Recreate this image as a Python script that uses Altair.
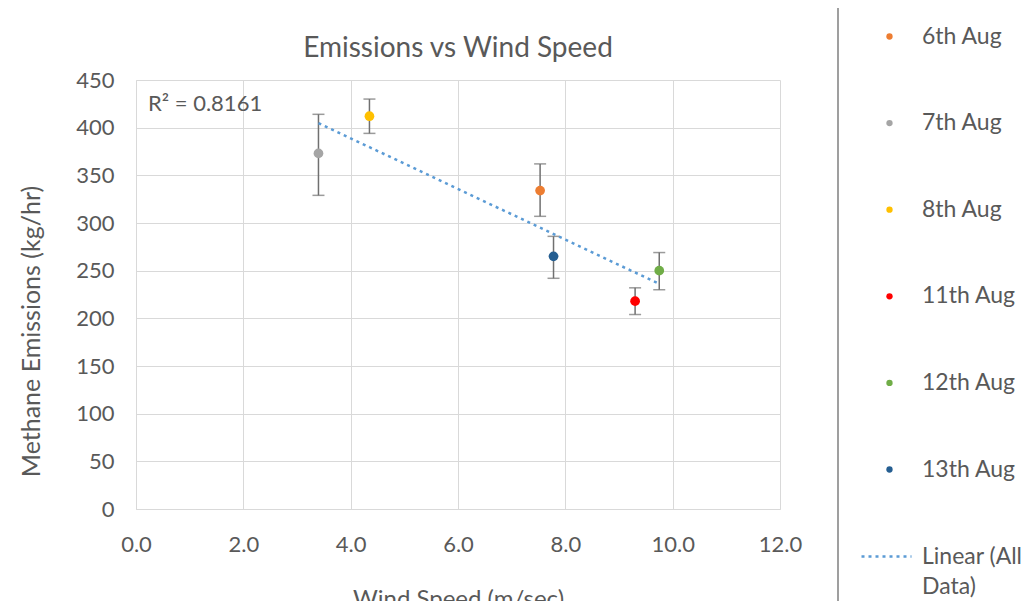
import altair as alt
import pandas as pd

# values
dates = ["6th Aug", "7th Aug", "8th Aug", "11th Aug", "12th Aug", "13th Aug"]
wind_speed = [7.53, 3.40, 4.35, 9.30, 9.75, 7.78]
emissions = [334, 373, 412, 218, 250, 265]
err_low = [307, 329, 394, 204, 230, 242]
err_high = [362, 414, 430, 232, 269, 286]
colors = ["#ED7D31", "#A5A5A5", "#FFC000", "#FF0000", "#70AD47", "#255E91"]
r2_label = "R² = 0.8161"
trend_name = "Linear (All Data)"

df = pd.DataFrame({
    "date": dates,
    "wind": wind_speed,
    "emissions": emissions,
    "low": err_low,
    "high": err_high,
})

txt = "#595959"
grid = "#D9D9D9"
y_title = "Methane Emissions (kg/hr)"

x_enc = alt.X("wind:Q", title="Wind Speed (m/sec)",
              scale=alt.Scale(domain=[0, 12], nice=False),
              axis=alt.Axis(values=[0, 2, 4, 6, 8, 10, 12], format=".1f",
                            labelPadding=25, titlePadding=32))
y_enc = alt.Y("emissions:Q", title=y_title,
              scale=alt.Scale(domain=[0, 450], nice=False),
              axis=alt.Axis(values=list(range(0, 451, 50)), titleFontSize=25,
                            labelPadding=22, titlePadding=31, titleY=251))

base = alt.Chart(df)

errbars = base.mark_errorbar(ticks={"size": 12}, color="#707070", thickness=1.5).encode(
    x="wind:Q",
    y=alt.Y("low:Q", title=y_title),
    y2="high:Q",
)

points = base.mark_circle(size=95, opacity=1).encode(
    x=x_enc,
    y=y_enc,
    color=alt.Color("date:N", scale=alt.Scale(domain=dates, range=colors),
                    legend=alt.Legend(orient="none", legendX=742, legendY=-55,
                                      title=None, symbolSize=40, symbolType="circle",
                                      labelFontSize=23, labelColor=txt,
                                      rowPadding=62.6, labelOffset=21, padding=0)),
)

trend = base.transform_regression("wind", "emissions").transform_calculate(
    series=f"'{trend_name}'"
).mark_line(strokeDash=[3, 4], strokeWidth=2.5).encode(
    x="wind:Q",
    y="emissions:Q",
    stroke=alt.Stroke("series:N", scale=alt.Scale(range=["#5B9BD5"]),
                      legend=alt.Legend(orient="none", legendX=724, legendY=450,
                                        title=None, symbolType="stroke",
                                        symbolSize=2500, symbolStrokeWidth=2.5,
                                        symbolDash=[3, 4], labelFontSize=23,
                                        labelColor=txt, labelOffset=9, padding=0,
                                        labelExpr="datum.label == 'Linear (All Data)' ? ['Linear (All', 'Data)'] : datum.label")),
)

r2 = alt.Chart(pd.DataFrame({"t": [r2_label]})).mark_text(
    align="left", baseline="middle", fontSize=22, color=txt
).encode(text="t:N", x=alt.value(12), y=alt.value(24))

frame = alt.Chart(pd.DataFrame({"a": [0]}))
top_border = frame.mark_rule(color=grid, strokeWidth=1).encode(
    x=alt.value(-129), x2=alt.value(900), y=alt.value(-74))
left_border = frame.mark_rule(color=grid, strokeWidth=1).encode(
    x=alt.value(-129), y=alt.value(-74), y2=alt.value(540))
divider = frame.mark_rule(color="#7F7F7F", strokeWidth=1.5).encode(
    x=alt.value(702), y=alt.value(-74), y2=alt.value(540))

chart = alt.layer(
    top_border, left_border, divider, errbars, trend, points, r2
).properties(
    width=644,
    height=429,
    # the frame rules reach above the plot, so the title is pulled back down
    title=alt.TitleParams("Emissions vs Wind Speed", fontSize=28, color=txt,
                          fontWeight="normal", offset=-58, frame="group"),
    padding={"left": 128, "top": 72, "right": 248, "bottom": 92},
    autosize=alt.AutoSizeParams(type="none"),
).configure(
    font="Lato",
    background="white",
    style={"guide-label": {"lineHeight": 30}},
).configure_view(
    stroke=None,
).configure_axis(
    labelFontSize=22,
    labelColor=txt,
    titleFontSize=24,
    titleColor=txt,
    titleFontWeight="normal",
    gridColor=grid,
    domainColor=grid,
    ticks=False,
    labelFlush=False,
)

chart.save("out.html", embed_options={"renderer": "svg", "actions": False})
